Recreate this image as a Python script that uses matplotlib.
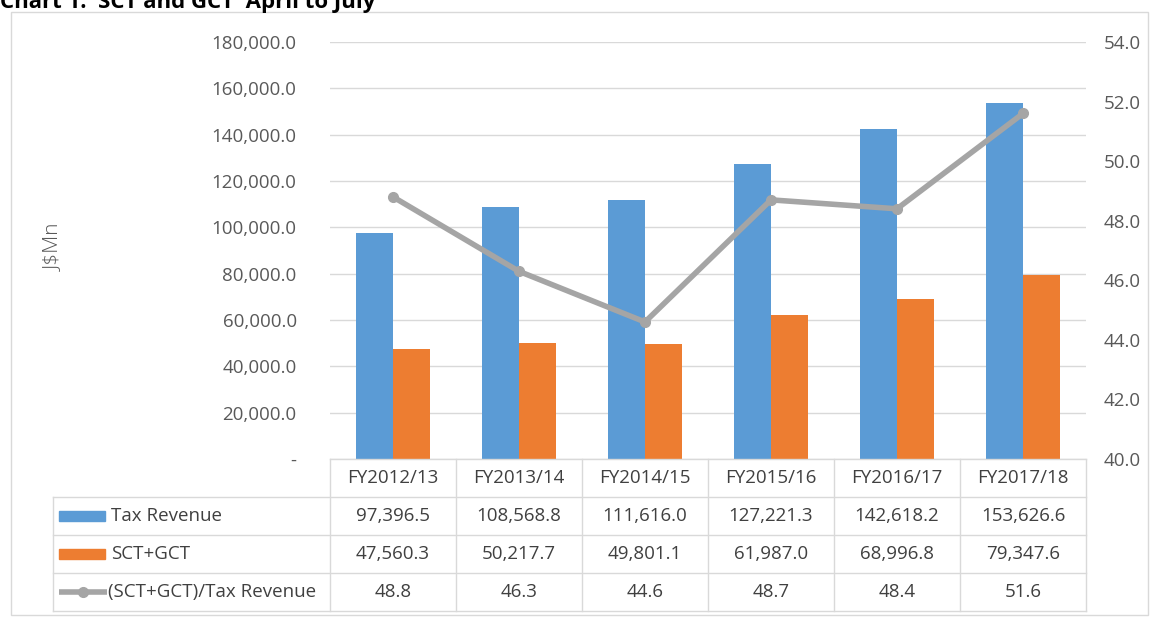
import matplotlib
matplotlib.use("Agg")
import matplotlib.pyplot as plt
from matplotlib.patches import Rectangle
from matplotlib.lines import Line2D
from matplotlib.transforms import blended_transform_factory
import numpy as np

plt.rcParams['font.family'] = ['Open Sans', 'DejaVu Sans']

# data
years = ['FY2012/13', 'FY2013/14', 'FY2014/15', 'FY2015/16', 'FY2016/17', 'FY2017/18']
tax_revenue = [97396.5, 108568.8, 111616.0, 127221.3, 142618.2, 153626.6]
sct_gct = [47560.3, 50217.7, 49801.1, 61987.0, 68996.8, 79347.6]
ratio = [48.8, 46.3, 44.6, 48.7, 48.4, 51.6]
series_names = ['Tax Revenue', 'SCT+GCT', '(SCT+GCT)/Tax Revenue']

BLUE = '#5B9BD5'
ORANGE = '#ED7D31'
GREY = '#A5A5A5'
TXT = '#595959'
GRID = '#D9D9D9'

W, H = 1159, 618
fig = plt.figure(figsize=(W / 100, H / 100), dpi=100)

def fx(px):
    return px / W

def fy(py):
    return 1 - py / H

# outer chart frame
fig.patches.append(Rectangle((fx(11), fy(615)), fx(1148) - fx(11), fy(12) - fy(615),
                             transform=fig.transFigure, fill=False, ec=GRID, lw=1))

# title (its top is cut off in the original too)
fig.text(fx(0), fy(8), 'Chart 1:  SCT and GCT  April to July', fontsize=16,
         fontweight='bold', color='black', va='baseline', ha='left')

ax = fig.add_axes([fx(330), fy(459), fx(1086) - fx(330), fy(42) - fy(459)])
x = np.arange(len(years))
bw = 0.29
ax.bar(x - bw / 2, tax_revenue, bw, color=BLUE, zorder=2)
ax.bar(x + bw / 2, sct_gct, bw, color=ORANGE, zorder=2)
ax.set_xlim(-0.5, len(years) - 0.5)
ax.set_ylim(0, 180000)
ax.set_yticks(np.arange(0, 180001, 20000))
ax.set_yticklabels(['-' if v == 0 else f'{v:,.1f}' for v in np.arange(0, 180001, 20000)])
ax.set_xticks([])
ax.grid(axis='y', color=GRID, lw=1, zorder=0)
ax.tick_params(axis='y', length=0, pad=24, labelsize=13.5, labelcolor=TXT)
for s in ax.spines.values():
    s.set_visible(False)

ax2 = ax.twinx()
ax2.plot(x, ratio, color=GREY, lw=4, marker='o', ms=7, zorder=3)
ax2.set_ylim(40, 54)
ax2.set_yticks(np.arange(40, 54.1, 2))
ax2.set_yticklabels([f'{v:.1f}' for v in np.arange(40, 54.1, 2)])
ax2.tick_params(axis='y', length=0, pad=13, labelsize=13.5, labelcolor=TXT)
for s in ax2.spines.values():
    s.set_visible(False)

fig.text(fx(54), fy(247), 'J$Mn', rotation=90, fontsize=15, color=TXT,
         ha='center', va='center', fontweight='light')

# data table under the axis
tr = blended_transform_factory(ax.transData, fig.transFigure)
rows_y = [459, 497, 535, 573, 611]
left = -0.5 - (330 - 53) / 126.0
right = len(years) - 0.5

def hline(x0, x1, py):
    fig.add_artist(Line2D([x0, x1], [fy(py), fy(py)], transform=tr, color=GRID, lw=1))

def vline(xd, py0, py1):
    fig.add_artist(Line2D([xd, xd], [fy(py0), fy(py1)], transform=tr, color=GRID, lw=1))

hline(-0.5, right, rows_y[0])
for py in rows_y[1:]:
    hline(left, right, py)
for b in np.arange(-0.5, right + 0.01, 1):
    vline(b, rows_y[0], rows_y[-1])
vline(left, rows_y[1], rows_y[-1])

TAB = '#404040'
fs = 13.5
for i, yr in enumerate(years):
    fig.text(i, fy((rows_y[0] + rows_y[1]) / 2), yr, transform=tr, ha='center',
             va='center', fontsize=fs, color=TAB)
table_rows = [
    [f'{v:,.1f}' for v in tax_revenue],
    [f'{v:,.1f}' for v in sct_gct],
    [f'{v:.1f}' for v in ratio],
]
for r, vals in enumerate(table_rows):
    yc = fy((rows_y[r + 1] + rows_y[r + 2]) / 2)
    for i, v in enumerate(vals):
        fig.text(i, yc, v, transform=tr, ha='center', va='center', fontsize=fs, color=TAB)
    fig.text(fx(111 if r < 2 else 108), yc, series_names[r], ha='left', va='center',
             fontsize=fs, color=TAB)

# legend keys in table
for r, col in enumerate([BLUE, ORANGE]):
    yc = (rows_y[r + 1] + rows_y[r + 2]) / 2
    fig.patches.append(Rectangle((fx(59), fy(yc + 5)), fx(105) - fx(59), fy(yc - 5) - fy(yc + 5),
                                 transform=fig.transFigure, color=col))
yc = (rows_y[3] + rows_y[4]) / 2
fig.add_artist(Line2D([fx(59), fx(107)], [fy(yc), fy(yc)], transform=fig.transFigure,
                      color=GREY, lw=4, solid_capstyle='butt'))
fig.add_artist(Line2D([fx(83)], [fy(yc)], transform=fig.transFigure, color=GREY,
                      marker='o', ms=7, lw=0))

fig.savefig('out.png', dpi=100)
